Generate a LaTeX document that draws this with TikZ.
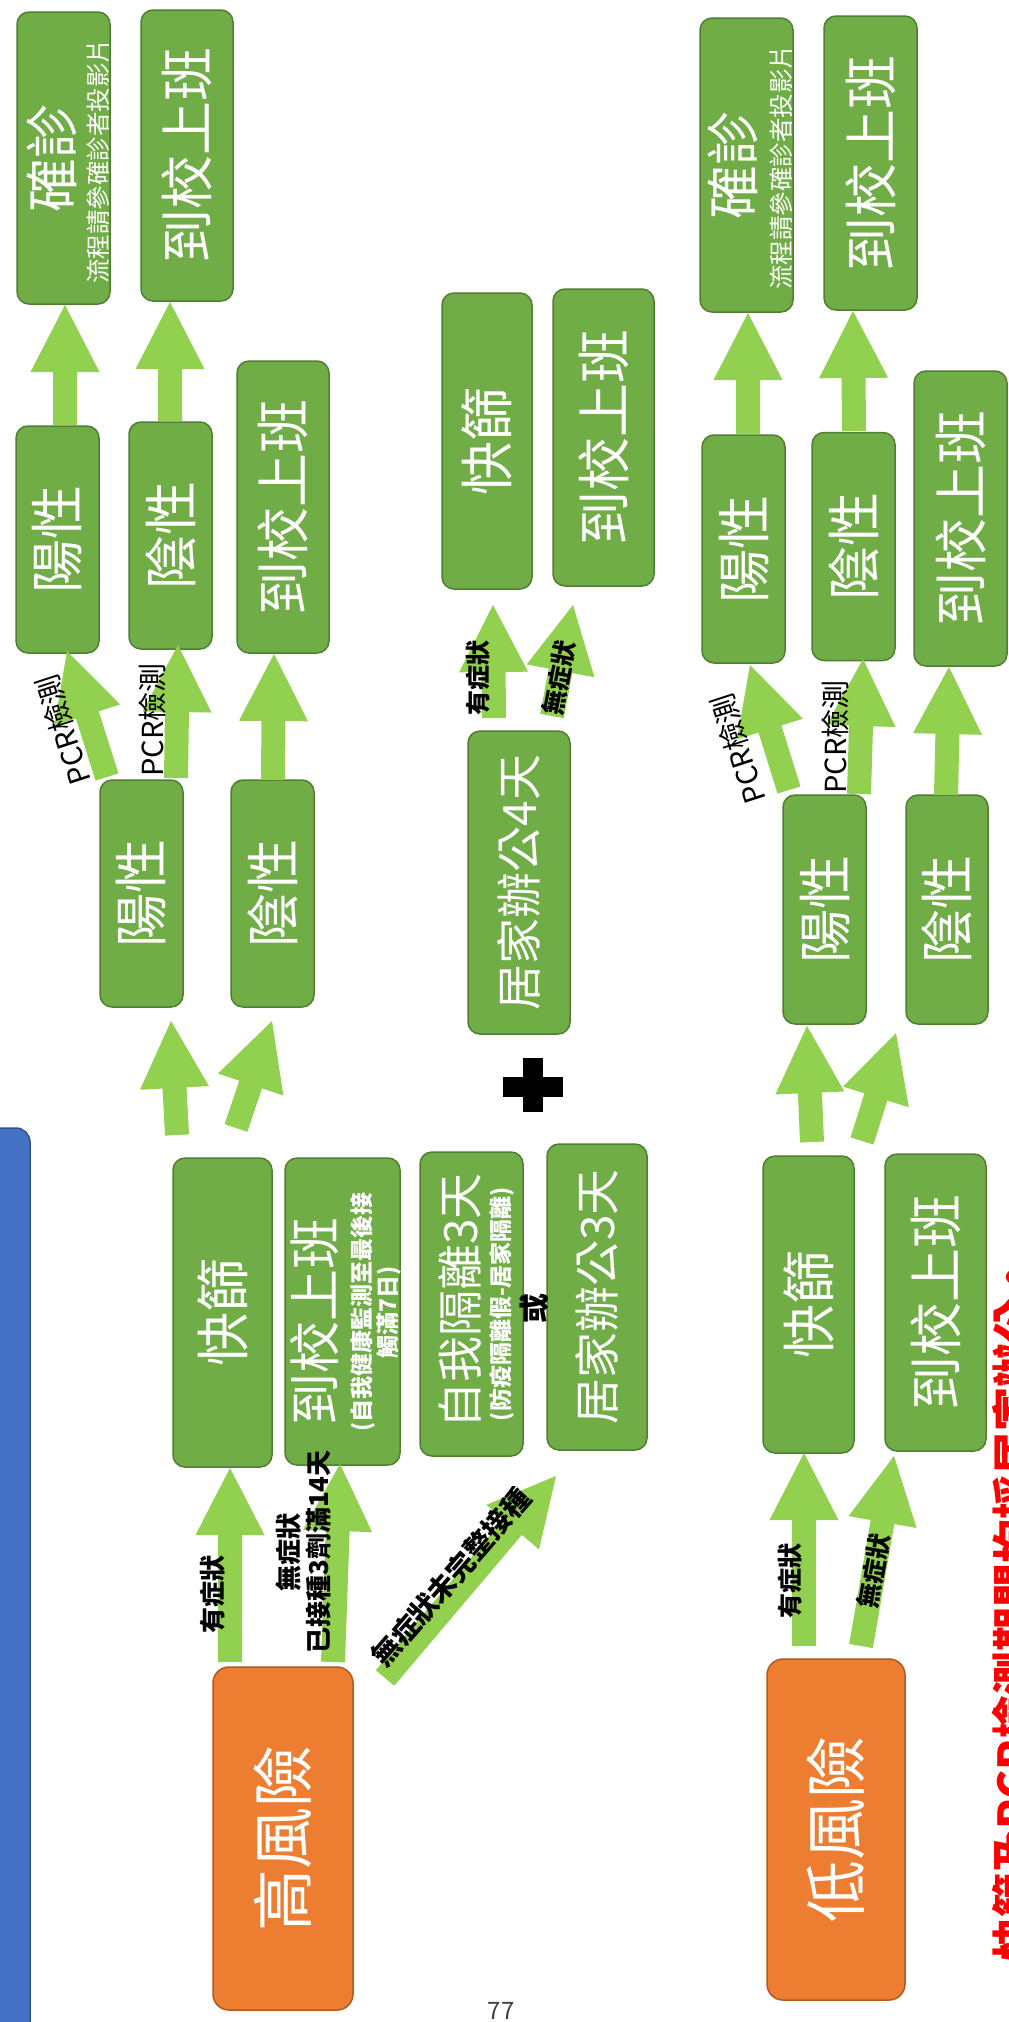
\documentclass[tikz,border=0pt]{standalone}
\usepackage{fontspec}
\setmainfont{Noto Sans CJK TC}
\usetikzlibrary{calc}
\definecolor{boxgreen}{HTML}{70AD47}
\definecolor{boxgreenline}{HTML}{507E32}
\definecolor{arrowgreen}{HTML}{92D050}
\definecolor{boxorange}{HTML}{ED7D31}
\definecolor{boxorangeline}{HTML}{AE5A21}
\definecolor{barblue}{HTML}{4472C4}
\definecolor{barblueline}{HTML}{2F528F}
\newcommand\fs[2]{\fontsize{#1}{#2}\selectfont}
\def\shaftw{12pt}\def\headw{34.5pt}\def\headlen{67pt}
\newcommand\fatarrow[2]{%
 \fill[arrowgreen] let \p1=(#1), \p2=(#2), \n1={atan2(\y2-\y1,\x2-\x1)}, \n2={veclen(\x2-\x1,\y2-\y1)-\headlen} in
 ($(\p1)+(\n1+90:\shaftw)$) -- ($(\p1)+(\n1:\n2)+(\n1+90:\shaftw)$) -- ($(\p1)+(\n1:\n2)+(\n1+90:\headw)$) -- (\p2) -- ($(\p1)+(\n1:\n2)+(\n1-90:\headw)$) -- ($(\p1)+(\n1:\n2)+(\n1-90:\shaftw)$) -- ($(\p1)+(\n1-90:\shaftw)$) -- cycle;}
\tikzset{
 gbox/.style={rectangle, rounded corners=12pt, draw=boxgreenline, line width=1.5pt, fill=boxgreen, text=white, rotate=90, inner sep=0pt, align=center},
 obox/.style={rectangle, rounded corners=16pt, draw=boxorangeline, line width=1.5pt, fill=boxorange, text=white, rotate=90, inner sep=0pt, align=center, font=\fs{62}{70}},
 bx/.style 2 args={minimum height=#1pt, minimum width=#2pt},
 wtxt/.style={text=white, inner sep=0pt, align=center},
 lbl/.style={text=black, inner sep=0pt, align=center, font=\fs{26}{30}\bfseries},
 pcr/.style={text=black, inner sep=0pt, font=\fs{29}{32}},
 big/.style={font=\fs{54}{60}},
 mid/.style={font=\fs{46}{52}},
}
\begin{document}
\begin{tikzpicture}[x=1pt,y=-1pt]
\useasboundingbox (0,0) rectangle (1009,2022);
\clip (0,0) rectangle (1009,2022);
\fill[white] (0,0) rectangle (1009,2022);
% blue bar
\draw[fill=barblue, draw=barblueline, line width=1.5pt, rounded corners=14pt] (-20,1128) rectangle (30,2060);
% ---------------- boxes, high risk (left) ----------------
\node[gbox, bx={93}{292}] (dxL) at (63.5,158) {};
\node[wtxt, rotate=90, font=\fs{54}{60}] (dxLt) at (52,158) {確診};
\node[wtxt, rotate=90, font=\fs{24.5}{27}] (dxLs) at (98,161) {流程請參確診者投影片};
\node[gbox, bx={92}{291}, big] (schL1) at (187,155.5) {到校上班};
\node[gbox, bx={83}{227}, big] (posL2) at (57.5,539.5) {陽性};
\node[gbox, bx={83}{227}, big] (negL2) at (170.5,535.5) {陰性};
\node[gbox, bx={92}{292}, big] (schL2) at (283,507) {到校上班};
\node[gbox, bx={83}{227}, big] (posL3) at (141.5,893.5) {陽性};
\node[gbox, bx={83}{227}, big] (negL3) at (272.5,893.5) {陰性};
\node[gbox, bx={99}{309}, big] (rapidL) at (222.5,1312.5) {快篩};
\node[gbox, bx={115}{307}] (schSelf) at (342.5,1311.5) {};
\node[wtxt, rotate=90, font=\fs{52}{58}] (schSelft) at (315,1321) {到校上班};
\node[wtxt, rotate=90, font=\fs{23}{24}\bfseries] (schSelfs) at (376,1312) {(自我健康監測至最後接\\觸滿7日)};
\node[gbox, bx={103}{304}] (iso) at (471.5,1304) {};
\node[wtxt, rotate=90, font=\fs{46}{52}] (isot) at (460,1301) {自我隔離3天};
\node[wtxt, rotate=90, font=\fs{23}{26}\bfseries] (isos) at (502,1304) {(防疫隔離假-居家隔離)};
\node[gbox, bx={100}{306}, mid] (home3) at (597,1297) {居家辦公3天};
\node[lbl, rotate=90, font=\fs{30}{32}\bfseries] (or) at (534,1308) {或};
\node[obox, bx={140}{343}] (high) at (283,1838.5) {高風險};
% middle
\node[gbox, bx={102}{303}, mid] (home4) at (519,882.5) {居家辦公4天};
\node[gbox, bx={90}{296}, big] (rapidM) at (487,441) {快篩};
\node[gbox, bx={101}{297}, big] (schM) at (603.5,437.5) {到校上班};
\fill[black] (503,1077) rectangle (563,1097);
\fill[black] (523,1058) rectangle (543,1112);
% ---------------- boxes, low risk (right) ----------------
\node[gbox, bx={93}{294}] (dxR) at (746.5,165) {};
\node[wtxt, rotate=90, font=\fs{54}{60}] (dxRt) at (733,165) {確診};
\node[wtxt, rotate=90, font=\fs{24.5}{27}] (dxRs) at (781,167) {流程請參確診者投影片};
\node[gbox, bx={93}{294}, big] (schR1) at (870.5,163) {到校上班};
\node[gbox, bx={83}{228}, big] (posR2) at (743.5,549) {陽性};
\node[gbox, bx={83}{228}, big] (negR2) at (853.5,546.5) {陰性};
\node[gbox, bx={93}{295}, big] (schR2) at (960.5,518.5) {到校上班};
\node[gbox, bx={83}{229}, big] (posR3) at (824.5,909.5) {陽性};
\node[gbox, bx={82}{229}, big] (negR3) at (947,909.5) {陰性};
\node[gbox, bx={91}{297}, big] (rapidR) at (808.5,1304.5) {快篩};
\node[gbox, bx={101}{297}, big] (schR4) at (935.5,1302.5) {到校上班};
\node[obox, bx={138}{341}] (low) at (836,1829.5) {低風險};
% ---------------- arrow end points ----------------
\coordinate (a1s) at (65,425);   \coordinate (a1e) at (65,305);
\coordinate (a2s) at (170,421);  \coordinate (a2e) at (170,302);
\coordinate (a3s) at (107,777);  \coordinate (a3e) at (67,651);
\coordinate (a4s) at (176,778);  \coordinate (a4e) at (178,645);
\coordinate (a5s) at (273,780);  \coordinate (a5e) at (274,654);
\coordinate (a6s) at (177,1135); \coordinate (a6e) at (171,1021);
\coordinate (a7s) at (236,1128); \coordinate (a7e) at (272,1021);
\coordinate (a8s) at (230,1662); \coordinate (a8e) at (230,1468);
\coordinate (a9s) at (333,1662); \coordinate (a9e) at (340,1464);
\coordinate (a10s) at (385,1678); \coordinate (a10e) at (556,1476);
\coordinate (a11s) at (494,718); \coordinate (a11e) at (493,605);
\coordinate (a12s) at (552,716); \coordinate (a12e) at (573,605);
\coordinate (a13s) at (748,434); \coordinate (a13e) at (748,313);
\coordinate (a14s) at (854,431); \coordinate (a14e) at (853,311);
\coordinate (a15s) at (789,790); \coordinate (a15e) at (750,665);
\coordinate (a16s) at (859,794); \coordinate (a16e) at (863,659);
\coordinate (a17s) at (946,795); \coordinate (a17e) at (949,667);
\coordinate (a18s) at (812,1142); \coordinate (a18e) at (807,1026);
\coordinate (a19s) at (862,1141); \coordinate (a19e) at (896,1033);
\coordinate (a20s) at (804,1646); \coordinate (a20e) at (804,1453);
\coordinate (a21s) at (861,1646); \coordinate (a21e) at (894,1456);
\foreach \i in {1,...,21}{\fatarrow{a\i s}{a\i e}}
% ---------------- labels ----------------
\node[pcr, rotate=108] (pcrL1) at (63,730) {PCR檢測};
\node[pcr, rotate=90] (pcrL2) at (152,720) {PCR檢測};
\node[pcr, rotate=108] (pcrR1) at (738,749) {PCR檢測};
\node[pcr, rotate=90] (pcrR2) at (835,737) {PCR檢測};
\node[lbl, rotate=90] (symH) at (213,1594) {有症狀};
\node[lbl, rotate=90] (asymH) at (303,1552) {無症狀\\已接種3劑滿14天};
\node[lbl, rotate=49, font=\fs{28}{30}\bfseries] (asymHx) at (451,1577) {無症狀未完整接種};
\node[lbl, rotate=90, font=\fs{25}{28}\bfseries] (symM) at (478,678) {有症狀};
\node[lbl, rotate=79, font=\fs{25}{28}\bfseries] (asymM) at (559,678) {無症狀};
\node[lbl, rotate=90, font=\fs{25}{28}\bfseries] (symL) at (790,1581) {有症狀};
\node[lbl, rotate=80, font=\fs{25}{28}\bfseries] (asymL) at (874,1571) {無症狀};
\node[rotate=90, anchor=base west, text=red, font=\fs{44}{50}\bfseries, inner sep=0pt] (note) at (1030,1962) {快篩及PCR檢測期間均採居家辦公。};
\node[font=\fs{24}{28}, text=black!75, inner sep=0pt] (page) at (501,2011) {77};
\end{tikzpicture}
\end{document}
